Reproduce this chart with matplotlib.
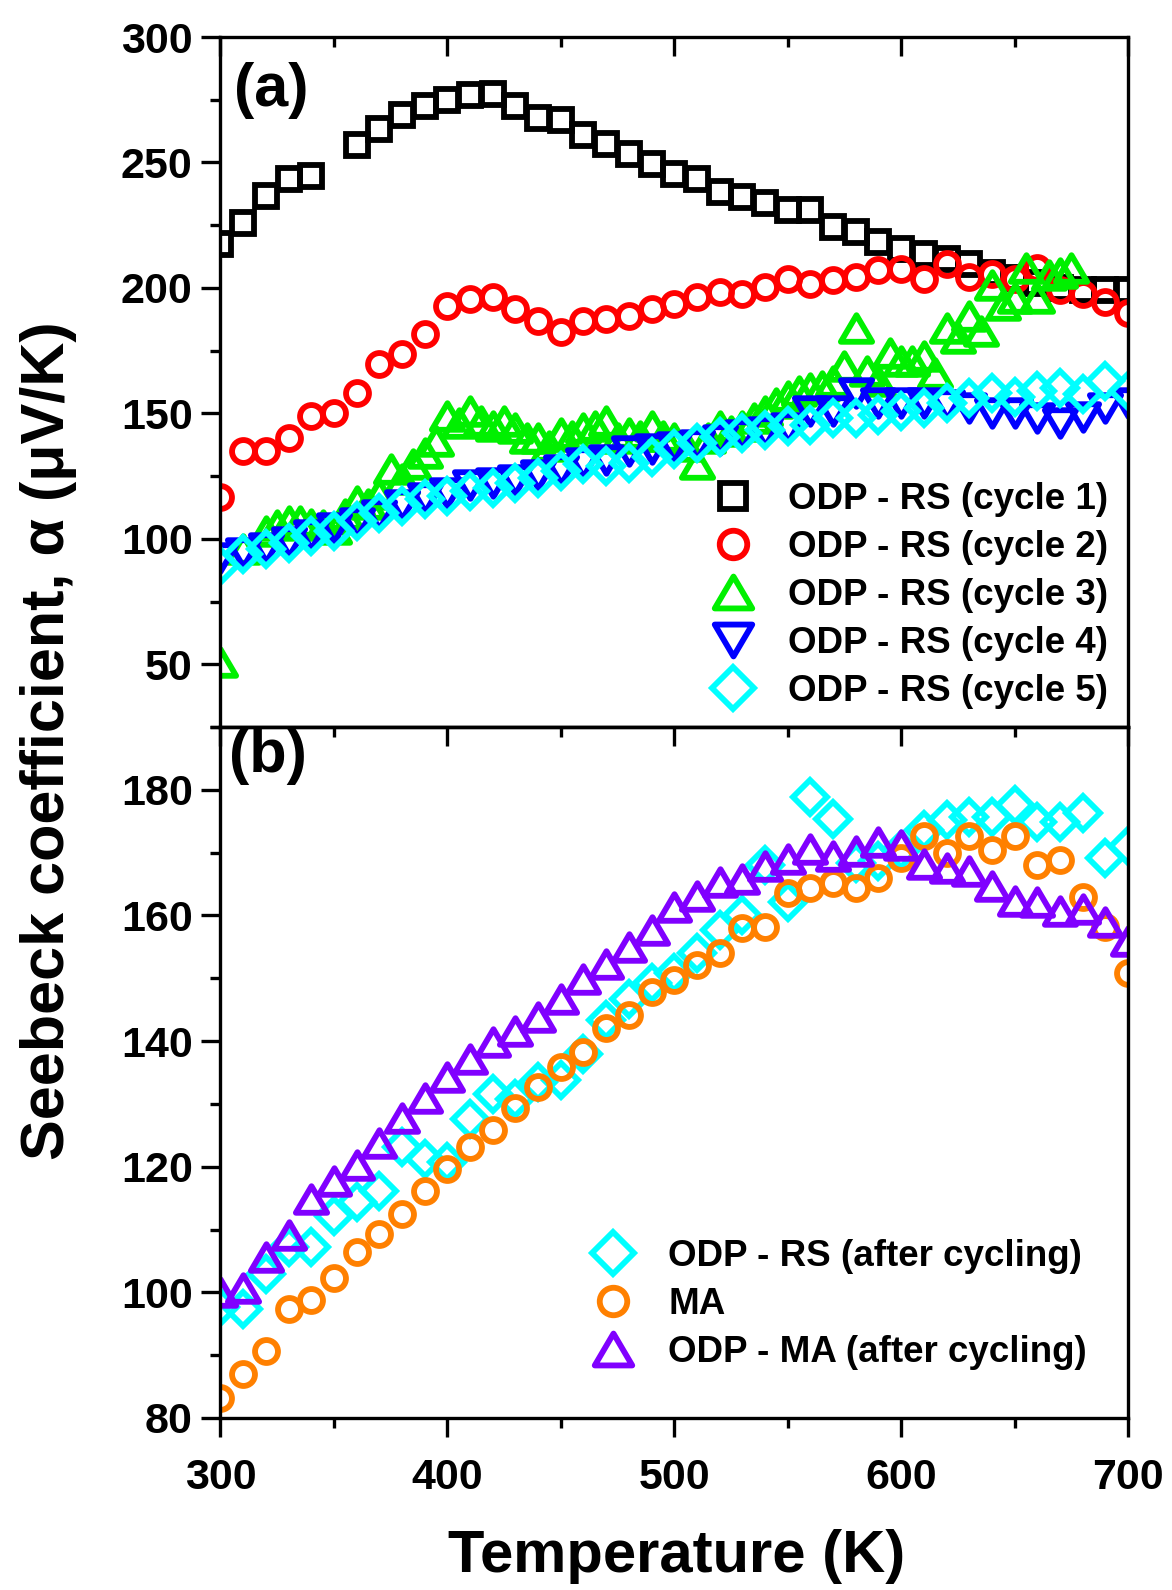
import numpy as np
import matplotlib
matplotlib.use('Agg')
import matplotlib.pyplot as plt
from matplotlib.path import Path
from matplotlib.markers import MarkerStyle
from matplotlib.ticker import MultipleLocator

plt.rcParams['font.family'] = ['Liberation Sans', 'DejaVu Sans']
plt.rcParams['font.weight'] = 'bold'

# ---- panel (a): ODP - RS, five thermal cycles ----
c1_T = [300, 310, 320, 330, 340, 360, 370, 380, 390, 400, 410, 420, 430, 440, 450, 460, 470, 480, 490, 500,
        510, 520, 530, 540, 550, 560, 570, 580, 590, 600, 610, 620, 630, 640, 650, 660, 670, 680, 690, 700]
c1_S = [217.7, 225.8, 236.6, 243.6, 244.6, 256.9, 263.5, 268.9, 272.4, 274.8, 276.8, 277.2, 272.4, 267.9, 266.9,
        260.9, 257.5, 253.3, 249.5, 245.6, 243.6, 238.2, 236.2, 233.8, 230.9, 230.9, 224.2, 222.2, 218.2, 215.6,
        213.6, 211.6, 209.6, 206.0, 204.0, 202.0, 200.0, 199.0, 199.0, 199.0]

T10 = [300, 310, 320, 330, 340, 350, 360, 370, 380, 390, 400, 410, 420, 430, 440, 450, 460, 470, 480, 490, 500,
       510, 520, 530, 540, 550, 560, 570, 580, 590, 600, 610, 620, 630, 640, 650, 660, 670, 680, 690, 700]

c2_S = [116.7, 135.0, 135.0, 140.0, 149.0, 150.0, 158.0, 169.7, 173.7, 181.7, 192.6, 195.6, 196.3, 191.7, 186.7,
        182.3, 186.7, 187.7, 189.0, 191.7, 193.4, 196.3, 198.3, 197.6, 200.3, 203.6, 201.6, 203.0, 204.3, 207.0,
        207.6, 203.6, 209.6, 204.3, 205.6, 203.6, 208.0, 199.0, 197.6, 194.3, 190.0]

c3_T = [300, 310, 320, 325, 330, 335, 340, 345, 350, 355, 360, 365, 370, 375, 380, 385, 390, 395, 400, 405,
        410, 415, 420, 425, 430, 435, 440, 445, 450, 455, 460, 465, 470, 475, 480, 485, 490, 495, 500, 505,
        510, 515, 520, 525, 530, 535, 540, 545, 550, 555, 560, 565, 570, 575, 580, 585, 590, 595, 600, 605,
        610, 615, 620, 625, 630, 635, 640, 645, 650, 655, 660, 665, 670, 675]
c3_S = [51.0, 96.0, 103.0, 105.5, 107.0, 107.0, 106.0, 105.5, 104.0, 110.0, 115.0, 114.0, 118.0, 128.0, 124.0,
        130.0, 134.0, 139.0, 149.0, 146.0, 151.0, 147.0, 145.0, 147.0, 144.0, 140.0, 140.0, 137.0, 142.0, 141.0,
        144.0, 145.0, 147.0, 140.0, 142.0, 141.0, 145.0, 141.0, 140.0, 137.0, 130.0, 140.0, 145.0, 143.0, 145.0,
        148.0, 151.0, 154.0, 157.0, 159.0, 160.0, 161.0, 163.0, 169.0, 184.0, 167.0, 163.0, 174.0, 171.0, 171.0,
        173.0, 166.0, 184.0, 180.0, 189.0, 183.0, 201.0, 193.0, 196.0, 208.0, 196.0, 205.0, 206.0, 208.0]

c4_S = [92.3, 94.5, 96.3, 98.9, 101.6, 104.3, 106.3, 109.6, 113.6, 116.3, 118.3, 121.6, 122.3, 123.6, 125.6,
        127.6, 130.3, 131.6, 134.9, 135.6, 136.5, 137.5, 139.5, 141.5, 142.5, 144.0, 151.0, 151.0, 158.0, 154.0,
        154.0, 154.0, 153.5, 152.0, 150.0, 150.0, 148.0, 146.0, 148.7, 152.0, 154.0]

c5_S = [89.0, 93.8, 95.8, 98.4, 101.0, 103.0, 107.0, 110.4, 113.0, 115.8, 117.0, 119.0, 120.4, 122.4, 124.4,
        127.0, 129.7, 129.0, 130.4, 132.7, 135.7, 138.0, 140.5, 142.0, 143.5, 145.0, 145.5, 148.0, 148.0, 149.5,
        151.0, 152.0, 154.0, 156.0, 158.0, 156.4, 159.0, 160.3, 157.7, 163.0, 159.0]

# ---- panel (b): after cycling ----
rs_after = [97.6, 97.3, 102.9, 107.2, 107.2, 112.2, 114.3, 116.2, 123.1, 121.3, 120.7, 127.6, 131.6, 130.8, 133.5,
            133.8, 137.9, 143.3, 146.7, 149.2, 150.8, 154.0, 157.7, 160.1, 168.0, 162.2, 178.8, 175.3, 168.3, 168.6,
            170.4, 173.6, 175.2, 175.7, 175.7, 177.6, 174.9, 174.9, 176.3, 169.1, 171.0]
ma = [83.2, 87.0, 90.7, 97.3, 98.7, 102.3, 106.4, 109.3, 112.5, 116.2, 119.7, 123.1, 125.9, 129.4, 132.7,
      135.8, 138.2, 142.0, 144.1, 147.8, 149.7, 152.1, 154.0, 158.0, 158.2, 163.5, 164.3, 165.1, 164.3, 165.9,
      169.1, 172.6, 169.9, 172.6, 170.4, 172.6, 168.0, 168.8, 163.0, 158.2, 150.8]
ma_after = [100.1, 100.7, 105.7, 109.2, 114.8, 117.7, 120.3, 123.8, 127.8, 131.0, 134.2, 137.1, 139.8, 141.6, 143.8,
            146.7, 149.9, 152.2, 154.9, 157.6, 161.3, 163.1, 165.3, 165.8, 167.9, 169.0, 170.6, 169.5, 170.3, 171.7,
            171.2, 168.2, 167.6, 167.1, 164.7, 162.3, 162.1, 160.7, 161.0, 158.9, 156.0]

labels_a = ['ODP - RS (cycle 1)', 'ODP - RS (cycle 2)', 'ODP - RS (cycle 3)',
            'ODP - RS (cycle 4)', 'ODP - RS (cycle 5)']
labels_b = ['ODP - RS (after cycling)', 'MA', 'ODP - MA (after cycling)']

# markers in the Origin look: wide triangles, sharp corners
tri_up = MarkerStyle(Path([(-1, -0.85), (1, -0.85), (0, 0.85), (-1, -0.85)], closed=True), joinstyle='miter')
tri_dn = MarkerStyle(Path([(-1, 0.85), (1, 0.85), (0, -0.85), (-1, 0.85)], closed=True), joinstyle='miter')
MEW = 4.2

def pts(ax, x, y, marker, ms, color, label):
    ax.plot(x, y, linestyle='none', marker=marker, ms=ms, mew=MEW, mfc='none', mec=color, label=label)

def style_axes(ax):
    for s in ax.spines.values():
        s.set_linewidth(2.4)
    ax.xaxis.set_major_locator(MultipleLocator(100))
    ax.xaxis.set_minor_locator(MultipleLocator(50))
    ax.tick_params(which='major', length=14, width=2.4, labelsize=31)
    ax.tick_params(which='minor', length=7.5, width=2.4)
    ax.tick_params(axis='y', which='both', direction='out', left=True, right=False, pad=6)


fig = plt.figure(figsize=(11.72, 15.9), dpi=100)
ax1 = fig.add_axes([0.1881, 0.5428, 0.7744, 0.4339])
ax2 = fig.add_axes([0.1881, 0.1082, 0.7744, 0.4346])

pts(ax1, c1_T, c1_S, 's', 15.5, '#000000', labels_a[0])
pts(ax1, T10, c2_S, 'o', 16.5, '#FF0000', labels_a[1])
pts(ax1, c3_T, c3_S, tri_up, 22.5, '#00F000', labels_a[2])
pts(ax1, T10, c4_S, tri_dn, 22.5, '#0000FF', labels_a[3])
pts(ax1, T10, c5_S, 'D', 17.5, '#00FFFF', labels_a[4])

pts(ax2, T10, rs_after, 'D', 17.5, '#00FFFF', labels_b[0])
pts(ax2, T10, ma, 'o', 16.5, '#FF8000', labels_b[1])
pts(ax2, T10, ma_after, tri_up, 22.5, '#8000FF', labels_b[2])

for ax in (ax1, ax2):
    style_axes(ax)
    ax.set_xlim(300, 700)

ax1.set_ylim(25, 300)
ax1.yaxis.set_major_locator(MultipleLocator(50))
ax1.yaxis.set_minor_locator(MultipleLocator(25))
ax1.tick_params(axis='x', which='both', direction='in', top=True, bottom=False, labelbottom=False)

ax2.set_ylim(80, 190)
ax2.yaxis.set_major_locator(MultipleLocator(20))
ax2.yaxis.set_minor_locator(MultipleLocator(10))
ax2.tick_params(axis='x', which='both', direction='out', top=False, bottom=True, pad=15)
top2 = ax2.secondary_xaxis('top')
top2.xaxis.set_major_locator(MultipleLocator(100))
top2.xaxis.set_minor_locator(MultipleLocator(50))
top2.tick_params(which='major', direction='in', length=14, width=2.4, labeltop=False)
top2.tick_params(which='minor', direction='in', length=7.5, width=2.4)
top2.spines['top'].set_linewidth(2.4)

ax1.text(0.056, 0.922, '(a)', transform=ax1.transAxes, ha='center', va='center', fontsize=44)
ax2.text(0.052, 0.957, '(b)', transform=ax2.transAxes, ha='center', va='center', fontsize=44)

leg_kw = dict(frameon=False, fontsize=26.5, handlelength=1.2, handletextpad=0.9, markerscale=1.2,
              borderpad=0, borderaxespad=0, labelspacing=0.35, numpoints=1)
ax1.legend(loc='upper left', bbox_to_anchor=(0.5405, 0.355), **leg_kw)
ax2.legend(loc='upper left', bbox_to_anchor=(0.408, 0.259), **leg_kw)

fig.text(0.041, 1 - 741 / 1590, 'Seebeck coefficient, α (μV/K)', rotation=90,
         ha='center', va='center', fontsize=44)
fig.text(0.577, 0.021, 'Temperature (K)', ha='center', va='center', fontsize=43)

fig.savefig('out.png', dpi=100)
